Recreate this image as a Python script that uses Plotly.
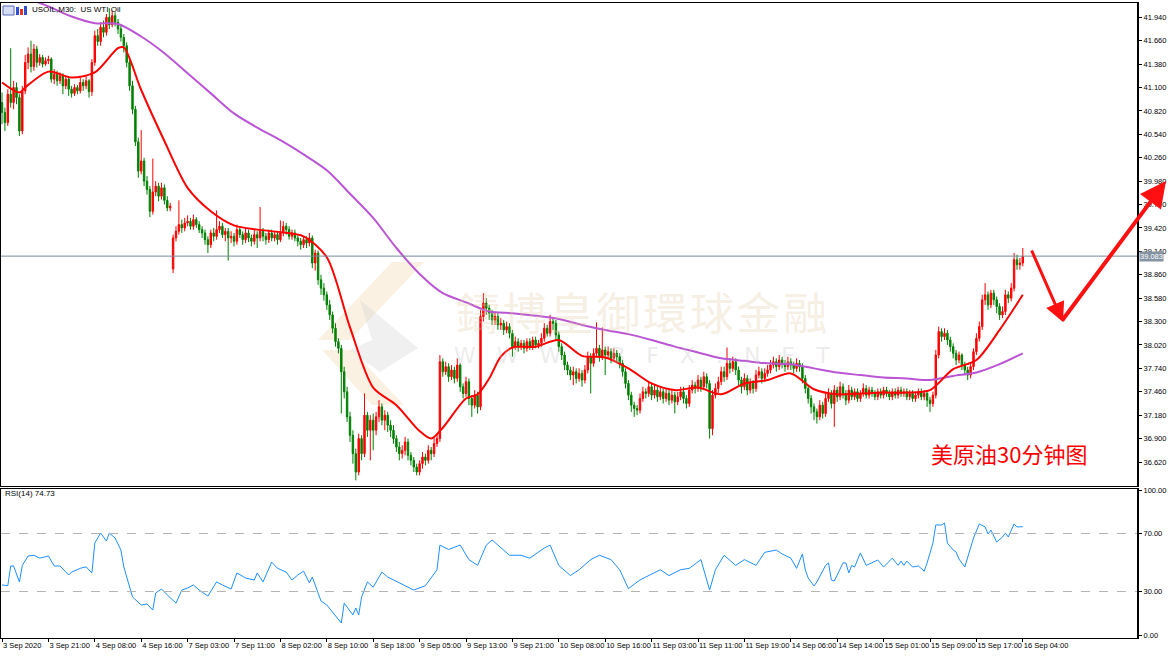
import numpy as np
import plotly.graph_objects as go

# USOIL M30 candles, 3 Sep 2020 00:00 .. 16 Sep 2020 04:00 (prices in cents)
opens = [4092, 4080, 4068, 4102, 4092, 4110, 4098, 4058, 4106, 4140, 4150, 4135, 4156, 4140, 4146, 4138,
         4142, 4144, 4120, 4126, 4118, 4124, 4112, 4120, 4108, 4103, 4110, 4106, 4116, 4112, 4118, 4105,
         4140, 4172, 4165, 4182, 4176, 4194, 4185, 4196, 4188, 4180, 4170, 4160, 4140, 4112,
         4084, 4045, 4010, 4022, 3998, 3988, 3962, 3985, 3992, 3980, 3990, 3975, 3966, 3893,
         3930, 3938, 3946, 3942, 3948, 3950, 3944, 3952, 3946, 3940, 3936, 3928, 3922, 3936, 3932, 3940, 3944, 3934, 3938, 3930, 3932,
         3926, 3940, 3934, 3928, 3936, 3930, 3926, 3934, 3930, 3938, 3932, 3928, 3936, 3930, 3934, 3928, 3936, 3944, 3940, 3932, 3936, 3930, 3926, 3922, 3928, 3924,
         3930, 3900, 3912, 3880, 3870, 3862, 3850, 3838, 3822, 3806, 3798, 3770, 3746, 3716, 3694, 3672, 3650, 3690, 3672, 3718, 3700,
         3712, 3700, 3716, 3728, 3712, 3718, 3706, 3700, 3690, 3680, 3672, 3676, 3686, 3670, 3664, 3656, 3650, 3660, 3668, 3664, 3676, 3672, 3684,
         3690, 3782, 3770, 3776, 3764, 3772, 3762, 3778, 3752, 3744, 3758, 3738, 3730, 3742, 3728, 3836,
         3852, 3846, 3840, 3832, 3836, 3826, 3828, 3820, 3824, 3816, 3800, 3806, 3800, 3804, 3798, 3806, 3800, 3808, 3802, 3804, 3810, 3822, 3816, 3830,
         3828, 3814, 3800, 3790, 3778, 3772, 3766, 3770, 3762, 3768, 3760, 3772, 3788, 3780, 3792, 3798, 3788, 3796, 3790, 3794, 3786, 3792,
         3788, 3780, 3770, 3756, 3742, 3730, 3726, 3724, 3738, 3746, 3744, 3752, 3742, 3748, 3740, 3746, 3738, 3744, 3736, 3742, 3734, 3740, 3746, 3738, 3732, 3748, 3754, 3750, 3760, 3752, 3764,
         3756, 3702, 3742, 3750, 3758, 3770, 3764, 3780, 3774, 3782, 3772, 3760, 3752, 3762, 3748, 3756, 3750, 3766, 3770, 3762, 3768,
         3772, 3778, 3782, 3776, 3784, 3780, 3776, 3782, 3778, 3774, 3780, 3776, 3762, 3750, 3738, 3728, 3722, 3716, 3730, 3720, 3738, 3744, 3732, 3748, 3740, 3752,
         3744, 3736, 3748, 3740, 3746, 3738, 3744, 3750, 3742, 3748, 3744, 3740, 3746, 3742, 3748, 3744, 3740, 3746, 3742, 3748, 3744, 3746, 3740, 3744, 3738, 3742, 3746, 3740, 3744, 3736, 3732,
         3742, 3790, 3818, 3812, 3816, 3808, 3800, 3792, 3784, 3790, 3778, 3772, 3766, 3776, 3794, 3810, 3824, 3856, 3862, 3850, 3864, 3856, 3848, 3838, 3842, 3862, 3858, 3870, 3904, 3898, 3900]
highs = [4104, 4086, 4108, 4157, 4118, 4116, 4102, 4112, 4149, 4158, 4166, 4162, 4160, 4150, 4149, 4146,
         4148, 4146, 4132, 4130, 4128, 4127, 4124, 4122, 4112, 4114, 4113, 4122, 4120, 4124, 4120, 4144,
         4178, 4180, 4188, 4190, 4198, 4205, 4202, 4200, 4192, 4186, 4174, 4164, 4145, 4118,
         4088, 4050, 4059, 4026, 4004, 3992, 4025, 3998, 3996, 3996, 3994, 3980, 3972, 3934,
         3944, 3975, 3952, 3954, 3957, 3954, 3958, 3955, 3950, 3944, 3940, 3932, 3940, 3942, 3963, 3950, 3948, 3942, 3942, 3938, 3936,
         3946, 3944, 3938, 3942, 3940, 3934, 3940, 3938, 3967, 3942, 3936, 3940, 3940, 3938, 3938, 3951, 3950, 3948, 3944, 3940, 3940, 3934, 3930, 3932, 3932, 3936,
         3933, 3916, 3915, 3886, 3876, 3866, 3856, 3842, 3828, 3810, 3802, 3776, 3752, 3722, 3700, 3678, 3696, 3694, 3744, 3722, 3718,
         3720, 3722, 3736, 3732, 3724, 3722, 3712, 3706, 3694, 3686, 3682, 3692, 3690, 3674, 3668, 3660, 3664, 3674, 3672, 3682, 3680, 3692, 3696,
         3790, 3786, 3782, 3780, 3778, 3776, 3786, 3780, 3756, 3764, 3762, 3742, 3748, 3746, 3844, 3864,
         3858, 3850, 3844, 3842, 3840, 3834, 3832, 3830, 3828, 3820, 3812, 3810, 3808, 3808, 3810, 3810, 3812, 3812, 3808, 3816, 3828, 3826, 3838, 3834,
         3832, 3818, 3804, 3794, 3782, 3776, 3776, 3774, 3774, 3772, 3778, 3794, 3792, 3798, 3829, 3802, 3823, 3800, 3800, 3798, 3798, 3796,
         3792, 3784, 3774, 3760, 3746, 3734, 3730, 3744, 3752, 3750, 3758, 3756, 3754, 3752, 3752, 3750, 3750, 3748, 3748, 3746, 3746, 3752, 3752, 3742, 3754, 3760, 3758, 3766, 3764, 3770, 3768,
         3760, 3748, 3756, 3764, 3776, 3776, 3799, 3786, 3788, 3786, 3776, 3764, 3768, 3766, 3762, 3760, 3772, 3776, 3774, 3774, 3778,
         3784, 3788, 3786, 3790, 3788, 3784, 3788, 3786, 3782, 3786, 3784, 3780, 3766, 3754, 3742, 3732, 3726, 3736, 3734, 3744, 3750, 3748, 3754, 3752, 3758, 3756,
         3748, 3754, 3752, 3750, 3750, 3748, 3756, 3754, 3752, 3752, 3748, 3750, 3750, 3752, 3752, 3748, 3750, 3750, 3752, 3752, 3750, 3750, 3748, 3748, 3746, 3750, 3750, 3748, 3746, 3740, 3746,
         3796, 3824, 3822, 3822, 3820, 3812, 3804, 3796, 3794, 3792, 3782, 3776, 3780, 3798, 3816, 3830, 3862, 3876, 3866, 3868, 3868, 3860, 3852, 3848, 3868, 3866, 3876, 3912, 3910, 3906, 3918]
lows = [4066, 4058, 4064, 4086, 4084, 4090, 4052, 4054, 4102, 4132, 4128, 4130, 4134, 4136, 4134, 4136,
        4138, 4116, 4114, 4112, 4114, 4102, 4108, 4100, 4098, 4100, 4102, 4103, 4106, 4108, 4098, 4100,
        4136, 4160, 4160, 4170, 4172, 4180, 4182, 4183, 4174, 4165, 4152, 4134, 4106, 4078,
        4040, 4002, 4006, 3992, 3982, 3955, 3958, 3980, 3974, 3976, 3970, 3962, 3962, 3888,
        3926, 3934, 3936, 3938, 3944, 3940, 3940, 3942, 3936, 3930, 3922, 3912, 3918, 3926, 3928, 3936, 3930, 3926, 3903, 3924, 3920,
        3922, 3930, 3922, 3924, 3925, 3920, 3922, 3918, 3926, 3926, 3922, 3924, 3926, 3926, 3922, 3925, 3932, 3934, 3928, 3928, 3926, 3920, 3916, 3918, 3918, 3920,
        3894, 3891, 3874, 3862, 3855, 3844, 3832, 3816, 3800, 3792, 3720, 3738, 3710, 3686, 3660, 3640, 3646, 3664, 3668, 3692, 3664,
        3676, 3694, 3710, 3706, 3700, 3698, 3692, 3684, 3674, 3664, 3666, 3670, 3664, 3658, 3650, 3646, 3646, 3654, 3658, 3660, 3664, 3668, 3680,
        3686, 3764, 3766, 3758, 3760, 3756, 3758, 3746, 3738, 3740, 3730, 3716, 3726, 3720, 3724, 3830,
        3838, 3832, 3826, 3826, 3820, 3820, 3814, 3816, 3810, 3788, 3796, 3794, 3796, 3792, 3794, 3796, 3796, 3798, 3798, 3800, 3806, 3812, 3812, 3820,
        3808, 3794, 3784, 3772, 3766, 3760, 3754, 3756, 3758, 3752, 3756, 3768, 3744, 3776, 3788, 3782, 3784, 3766, 3786, 3780, 3782, 3782,
        3774, 3764, 3750, 3736, 3722, 3716, 3718, 3720, 3734, 3738, 3740, 3736, 3738, 3734, 3736, 3732, 3734, 3730, 3732, 3720, 3730, 3736, 3732, 3726, 3728, 3744, 3744, 3746, 3746, 3748, 3750,
        3690, 3694, 3738, 3744, 3754, 3758, 3760, 3768, 3770, 3766, 3754, 3744, 3748, 3742, 3744, 3744, 3746, 3762, 3756, 3758, 3764,
        3768, 3774, 3770, 3772, 3774, 3770, 3772, 3772, 3768, 3770, 3770, 3756, 3744, 3732, 3720, 3712, 3708, 3712, 3714, 3716, 3734, 3726, 3704, 3734, 3736, 3738,
        3730, 3732, 3736, 3736, 3734, 3734, 3740, 3738, 3738, 3740, 3736, 3736, 3738, 3738, 3740, 3736, 3736, 3738, 3738, 3740, 3740, 3736, 3736, 3734, 3734, 3738, 3736, 3736, 3728, 3722, 3728,
        3738, 3786, 3806, 3808, 3802, 3794, 3786, 3778, 3780, 3772, 3766, 3760, 3762, 3772, 3790, 3806, 3820, 3850, 3844, 3846, 3850, 3840, 3832, 3834, 3838, 3852, 3854, 3866, 3892, 3892, 3896]
closes = [4080, 4068, 4102, 4092, 4110, 4098, 4058, 4106, 4140, 4150, 4135, 4156, 4140, 4146, 4138, 4142,
          4144, 4120, 4126, 4118, 4124, 4112, 4120, 4108, 4103, 4110, 4106, 4116, 4112, 4118, 4105, 4140,
          4172, 4165, 4182, 4176, 4194, 4185, 4196, 4188, 4180, 4170, 4160, 4140, 4112, 4084,
          4045, 4010, 4022, 3998, 3988, 3962, 3985, 3992, 3980, 3990, 3975, 3966, 3968, 3930,
          3938, 3946, 3942, 3948, 3950, 3944, 3952, 3946, 3940, 3936, 3928, 3922, 3936, 3932, 3940, 3944, 3934, 3938, 3930, 3932, 3926,
          3940, 3934, 3928, 3936, 3930, 3926, 3934, 3930, 3938, 3932, 3928, 3936, 3930, 3934, 3928, 3936, 3944, 3940, 3932, 3936, 3930, 3926, 3922, 3928, 3924, 3930,
          3900, 3912, 3880, 3870, 3862, 3850, 3838, 3822, 3806, 3798, 3770, 3746, 3716, 3694, 3672, 3650, 3690, 3672, 3718, 3700, 3712,
          3700, 3716, 3728, 3712, 3718, 3706, 3700, 3690, 3680, 3672, 3676, 3686, 3670, 3664, 3656, 3650, 3660, 3668, 3664, 3676, 3672, 3684, 3690,
          3782, 3770, 3776, 3764, 3772, 3762, 3778, 3752, 3744, 3758, 3738, 3730, 3742, 3728, 3836, 3852,
          3846, 3840, 3832, 3836, 3826, 3828, 3820, 3824, 3816, 3800, 3806, 3800, 3804, 3798, 3806, 3800, 3808, 3802, 3804, 3810, 3822, 3816, 3830, 3828,
          3814, 3800, 3790, 3778, 3772, 3766, 3770, 3762, 3768, 3760, 3772, 3788, 3780, 3792, 3798, 3788, 3796, 3790, 3794, 3786, 3792, 3788,
          3780, 3770, 3756, 3742, 3730, 3726, 3724, 3738, 3746, 3744, 3752, 3742, 3748, 3740, 3746, 3738, 3744, 3736, 3742, 3734, 3740, 3746, 3738, 3732, 3748, 3754, 3750, 3760, 3752, 3764, 3756,
          3702, 3742, 3750, 3758, 3770, 3764, 3780, 3774, 3782, 3772, 3760, 3752, 3762, 3748, 3756, 3750, 3766, 3770, 3762, 3768, 3772,
          3778, 3782, 3776, 3784, 3780, 3776, 3782, 3778, 3774, 3780, 3776, 3762, 3750, 3738, 3728, 3722, 3716, 3730, 3720, 3738, 3744, 3732, 3748, 3740, 3752, 3744,
          3736, 3748, 3740, 3746, 3738, 3744, 3750, 3742, 3748, 3744, 3740, 3746, 3742, 3748, 3744, 3740, 3746, 3742, 3748, 3744, 3746, 3740, 3744, 3738, 3742, 3746, 3740, 3744, 3736, 3732, 3742,
          3790, 3818, 3812, 3816, 3808, 3800, 3792, 3784, 3790, 3778, 3772, 3766, 3776, 3794, 3810, 3824, 3856, 3862, 3850, 3864, 3856, 3848, 3838, 3842, 3862, 3858, 3870, 3904, 3898, 3900, 3908]

# moving averages sampled along the bars (red fast MA, purple slow MA)
ma_fast_bars = [0, 6, 8, 16, 24, 32, 40, 42, 48, 56, 64, 72, 80, 88, 96, 104, 112, 120, 128, 136, 144, 148, 152,
                160, 164, 168, 172, 176, 184, 192, 200, 208, 216, 224, 232, 240, 248, 256, 264, 272, 280, 288,
                296, 304, 312, 320, 328, 336, 344, 352]
ma_fast = [41.16, 41.04, 41.10, 41.29, 41.22, 41.28, 41.57, 41.58, 41.07, 40.46, 39.90, 39.62, 39.45, 39.40,
           39.37, 39.32, 39.07, 38.23, 37.51, 37.30, 36.99, 36.90, 37.03, 37.38, 37.43, 37.62, 37.88, 37.99,
           38.00, 38.08, 37.89, 37.87, 37.74, 37.56, 37.48, 37.51, 37.43, 37.56, 37.60, 37.68, 37.49, 37.43,
           37.44, 37.45, 37.45, 37.48, 37.73, 37.84, 38.20, 38.62]
ma_slow_bars = [0, 8, 16, 24, 32, 40, 48, 56, 64, 72, 80, 88, 96, 104, 112, 120, 128, 136, 144, 152, 160, 168,
                176, 184, 192, 200, 208, 216, 224, 232, 240, 248, 256, 264, 272, 280, 288, 296, 304, 312, 320,
                328, 336, 344, 352]
ma_slow = [42.29, 42.18, 42.07, 41.95, 41.87, 41.86, 41.71, 41.51, 41.27, 41.03, 40.79, 40.62, 40.47, 40.30,
           40.11, 39.83, 39.54, 39.18, 38.87, 38.64, 38.53, 38.42, 38.40, 38.37, 38.33, 38.26, 38.20, 38.15,
           38.08, 38.00, 37.93, 37.86, 37.83, 37.80, 37.79, 37.74, 37.69, 37.66, 37.63, 37.62, 37.60, 37.65,
           37.69, 37.79, 37.92]

rsi_bars = [0, 2, 3, 4, 6, 7, 9, 11, 13, 16, 18, 20, 23, 24, 27, 29, 31, 32, 34, 36, 37, 39, 41, 42, 45, 48, 50,
            52, 53, 55, 57, 60, 62, 64, 66, 68, 71, 74, 76, 79, 81, 84, 87, 88, 90, 93, 95, 98, 100, 102, 104,
            106, 107, 110, 112, 117, 118, 121, 122, 123, 124, 126, 128, 131, 133, 137, 142, 146, 150, 151, 154,
            158, 161, 164, 167, 169, 172, 175, 179, 182, 187, 189, 192, 196, 199, 203, 206, 210, 213, 216, 220,
            223, 227, 230, 234, 237, 241, 244, 246, 249, 253, 256, 260, 263, 267, 269, 272, 274, 276, 277, 278,
            280, 281, 284, 285, 286, 287, 290, 291, 292, 293, 294, 296, 298, 300, 302, 304, 307, 309, 310, 311,
            312, 314, 316, 318, 319, 321, 322, 324, 325, 326, 328, 329, 330, 332, 334, 335, 337, 339, 340, 341,
            343, 345, 346, 347, 349, 350, 352]
rsi = [34.5, 34, 47.6, 47.6, 36.6, 48, 54.5, 55, 53, 54.5, 47.6, 47.6, 41.4, 43.4, 46, 47, 42.8, 63.4, 70.3,
       64.8, 70.3, 66.9, 58.6, 47, 26.2, 20.7, 21.4, 17.2, 29, 31.7, 27.6, 22, 31, 32.4, 34.5, 31, 26.9, 36.6,
       34.5, 31.7, 42.8, 39.3, 37.9, 42.8, 36.6, 50.3, 46, 43.4, 37.9, 41.4, 44, 35.9, 40, 23.4, 20.7, 8.3, 22,
       13.8, 18.6, 13.8, 26.2, 36.6, 33, 43.4, 40, 35.9, 31, 34, 45, 62, 59, 62, 52, 48, 62, 65.5, 60, 55, 55,
       53, 60, 62, 48, 41, 45, 52, 55, 52, 45, 32, 38, 41, 45, 41, 45, 46, 52, 31, 45, 55, 48, 52, 48, 57, 58.6,
       55.9, 53, 46, 55.9, 44.8, 39.3, 33.8, 36.6, 48, 49.7, 37.9, 37.2, 49.7, 49.7, 42.8, 48, 46.9, 56.6, 48,
       49.7, 51.7, 46.9, 53, 48, 51, 48, 51, 46.9, 47.6, 44, 49.7, 63.4, 75.9, 75.9, 77.2, 63.4, 58.6, 57.2,
       52.4, 46.9, 60, 66.9, 76.6, 74.5, 69.7, 72.4, 64.1, 67.6, 70.3, 67.6, 76.6, 74.5, 74.73]

price_ticks = [41.940, 41.660, 41.380, 41.100, 40.820, 40.540, 40.260, 39.980, 39.700, 39.420,
               39.140, 38.860, 38.580, 38.300, 38.020, 37.740, 37.460, 37.180, 36.900, 36.620]
rsi_ticks = [0, 30, 70, 100]
time_label_bars = [0, 16, 32, 48, 64, 80, 96, 112, 128, 144, 160, 176, 192, 208, 224, 240, 256, 272, 288,
                   304, 320, 336, 352]
time_labels = ["3 Sep 2020", "3 Sep 21:00", "4 Sep 08:00", "4 Sep 16:00", "7 Sep 03:00", "7 Sep 11:00",
               "8 Sep 02:00", "8 Sep 10:00", "8 Sep 18:00", "9 Sep 05:00", "9 Sep 13:00", "9 Sep 21:00",
               "10 Sep 08:00", "10 Sep 16:00", "11 Sep 03:00", "11 Sep 11:00", "11 Sep 19:00", "14 Sep 06:00",
               "14 Sep 14:00", "15 Sep 01:00", "15 Sep 09:00", "15 Sep 17:00", "16 Sep 04:00"]
last_price = 39.083
last_rsi = 74.73

n = len(closes)
assert len(opens) == n and len(highs) == n and len(lows) == n
bars = np.arange(n)
o = np.array(opens) / 100
h = np.array(highs) / 100
l = np.array(lows) / 100
c = np.array(closes) / 100

W, H = 1170, 657
ML, MR, MT, MB = 1, 33, 3, 19
PW, PH = W - ML - MR, H - MT - MB


def px(x):
    return (x - ML) / PW


def py(y):
    return (H - MB - y) / PH


fig = go.Figure()
fig.add_trace(go.Candlestick(
    x=bars, open=o, high=h, low=l, close=c, whiskerwidth=0,
    increasing=dict(line=dict(color="#ff0000", width=1), fillcolor="#ff0000"),
    decreasing=dict(line=dict(color="#008000", width=1), fillcolor="#008000"),
    hoverinfo="skip"))
fig.add_trace(go.Scatter(x=ma_slow_bars, y=ma_slow, mode="lines",
                         line=dict(color="#ba55d3", width=2, shape="spline", smoothing=0.8)))
fig.add_trace(go.Scatter(x=ma_fast_bars, y=ma_fast, mode="lines",
                         line=dict(color="#ff0000", width=2, shape="spline", smoothing=0.8)))
fig.add_trace(go.Scatter(x=rsi_bars, y=rsi, mode="lines", xaxis="x2", yaxis="y2",
                         line=dict(color="#1e90ff", width=1)))

xr = [(ML - 2) / 2.9, (W - MR - 2) / 2.9]
axis_font = dict(family="Liberation Sans", size=7.5, color="black")
fig.update_layout(
    width=W, height=H, margin=dict(l=ML, r=MR, t=MT, b=MB, autoexpand=False),
    paper_bgcolor="white", plot_bgcolor="white", showlegend=False, boxgap=0.3,
    font=dict(family="Liberation Sans", size=8, color="black"),
    xaxis=dict(range=xr, anchor="y", showticklabels=False, ticks="", showgrid=False, zeroline=False,
               automargin=False, showline=True, mirror=True, linecolor="black", linewidth=1,
               rangeslider=dict(visible=False)),
    yaxis=dict(domain=[py(486), 1], range=[36.620 - (486 - 462) / 83.6, 41.940 + (17.3 - MT) / 83.6],
               side="right", tickvals=price_ticks, ticktext=[f"{v:.3f}" for v in price_ticks],
               tickfont=axis_font, automargin=False,
               ticks="outside", ticklen=3, tickcolor="black", showgrid=False, zeroline=False,
               showline=True, mirror=True, linecolor="black", linewidth=2),
    xaxis2=dict(range=xr, anchor="y2", matches="x", tickvals=time_label_bars, ticktext=time_labels,
                tickangle=0, tickfont=axis_font, automargin=False,
                ticks="outside", ticklen=3, tickcolor="black", ticklabelposition="outside right",
                showgrid=False, zeroline=False, showline=True, mirror=True, linecolor="black", linewidth=1),
    yaxis2=dict(domain=[0, py(489)], range=[-(H - MB - 635) / 1.45, 100 + (490 - 489) / 1.45],
                side="right", anchor="x2", tickvals=rsi_ticks, ticktext=[f"{v:.2f}" for v in rsi_ticks],
                tickfont=axis_font, automargin=False,
                ticks="outside", ticklen=3, tickcolor="black", showgrid=False, zeroline=False,
                showline=True, mirror=True, linecolor="black", linewidth=2),
)

shapes = [
    dict(type="line", xref="paper", yref="y", x0=0, x1=1, y0=last_price, y1=last_price,
         line=dict(color="#778899", width=1)),
    dict(type="line", xref="paper", yref="y2", x0=0, x1=1, y0=70, y1=70,
         line=dict(color="#b4b4b4", width=1, dash="dash")),
    dict(type="line", xref="paper", yref="y2", x0=0, x1=1, y0=30, y1=30,
         line=dict(color="#b4b4b4", width=1, dash="dash")),
    # chart icon next to the symbol name
    dict(type="rect", xref="paper", yref="paper", x0=px(3), x1=px(14), y0=py(15), y1=py(6),
         fillcolor="#d6dcf4", line=dict(color="#5868b8", width=1)),
    dict(type="rect", xref="paper", yref="paper", x0=px(16), x1=px(19), y0=py(15), y1=py(7),
         fillcolor="#3050d0", line=dict(width=0)),
    dict(type="rect", xref="paper", yref="paper", x0=px(20), x1=px(23), y0=py(15), y1=py(9),
         fillcolor="#e03030", line=dict(width=0)),
    dict(type="rect", xref="paper", yref="paper", x0=px(24), x1=px(27), y0=py(15), y1=py(6),
         fillcolor="#3050d0", line=dict(width=0)),
]


def poly(points):
    return "M " + " L ".join(f"{px(a):.4f},{py(b):.4f}" for a, b in points) + " Z"


# faint watermark logo
shapes += [
    dict(type="path", xref="paper", yref="paper", layer="below", line=dict(width=0),
         fillcolor="rgba(240,214,172,0.35)", path=poly([(392, 262), (424, 262), (350, 340), (318, 340)])),
    dict(type="path", xref="paper", yref="paper", layer="below", line=dict(width=0),
         fillcolor="rgba(205,205,205,0.3)", path=poly([(360, 300), (418, 348), (380, 372), (350, 350), (372, 340)])),
    dict(type="path", xref="paper", yref="paper", layer="below", line=dict(width=0),
         fillcolor="rgba(240,214,172,0.35)", path=poly([(322, 350), (352, 350), (404, 405), (372, 405)])),
]
fig.update_layout(shapes=shapes)

ann = [
    dict(text="USOIL,M30:  US WTI Oil", x=px(30), y=py(10)),
    dict(text=f"RSI(14) {last_rsi:.2f}", x=px(3), y=py(493)),
]
for a in ann:
    fig.add_annotation(xref="paper", yref="paper", xanchor="left", yanchor="middle", showarrow=False,
                       font=dict(family="Liberation Sans", size=8, color="black"), **a)

fig.add_annotation(xref="paper", yref="y", x=px(1139), y=last_price, xanchor="left", yanchor="middle",
                   text=f"{last_price:.3f}", showarrow=False, bgcolor="#8593a3", borderpad=0,
                   font=dict(family="Liberation Sans", size=7.5, color="white"))

fig.add_annotation(xref="paper", yref="paper", x=px(641), y=py(311), xanchor="center", yanchor="middle",
                   showarrow=False, text="鑄\u200a博\u200a皇\u200a御\u200a環\u200a球\u200a金\u200a融",
                   font=dict(family="Noto Sans CJK TC", size=44, color="rgba(226,200,160,0.3)"))
fig.add_annotation(xref="paper", yref="paper", x=px(642), y=py(355), xanchor="center", yanchor="middle",
                   showarrow=False, text="W   W   W   .   B   F   X   .   N   E   T",
                   font=dict(family="DejaVu Sans", size=22, color="rgba(190,190,190,0.3)"))

fig.add_annotation(xref="paper", yref="paper", x=px(1009), y=py(453), xanchor="center", yanchor="middle",
                   showarrow=False, text="美原油30分钟图",
                   font=dict(family="Noto Sans CJK SC", size=22, color="#ff0000"))

# hand-drawn forecast arrows
fig.add_annotation(xref="paper", yref="paper", x=px(1063), y=py(322), ax=1031 - 1063, ay=249 - 322,
                   showarrow=True, arrowhead=2, arrowsize=1.3, arrowwidth=3, arrowcolor="#ff1010", text="")
fig.add_annotation(xref="paper", yref="paper", x=px(1166), y=py(181), ax=1061 - 1166, ay=322 - 181,
                   showarrow=True, arrowhead=2, arrowsize=1.3, arrowwidth=4, arrowcolor="#ff1010", text="")

fig.write_html("out.html", config={"displayModeBar": False},
               post_script="document.body.style.margin='0';document.body.style.overflow='hidden';")
